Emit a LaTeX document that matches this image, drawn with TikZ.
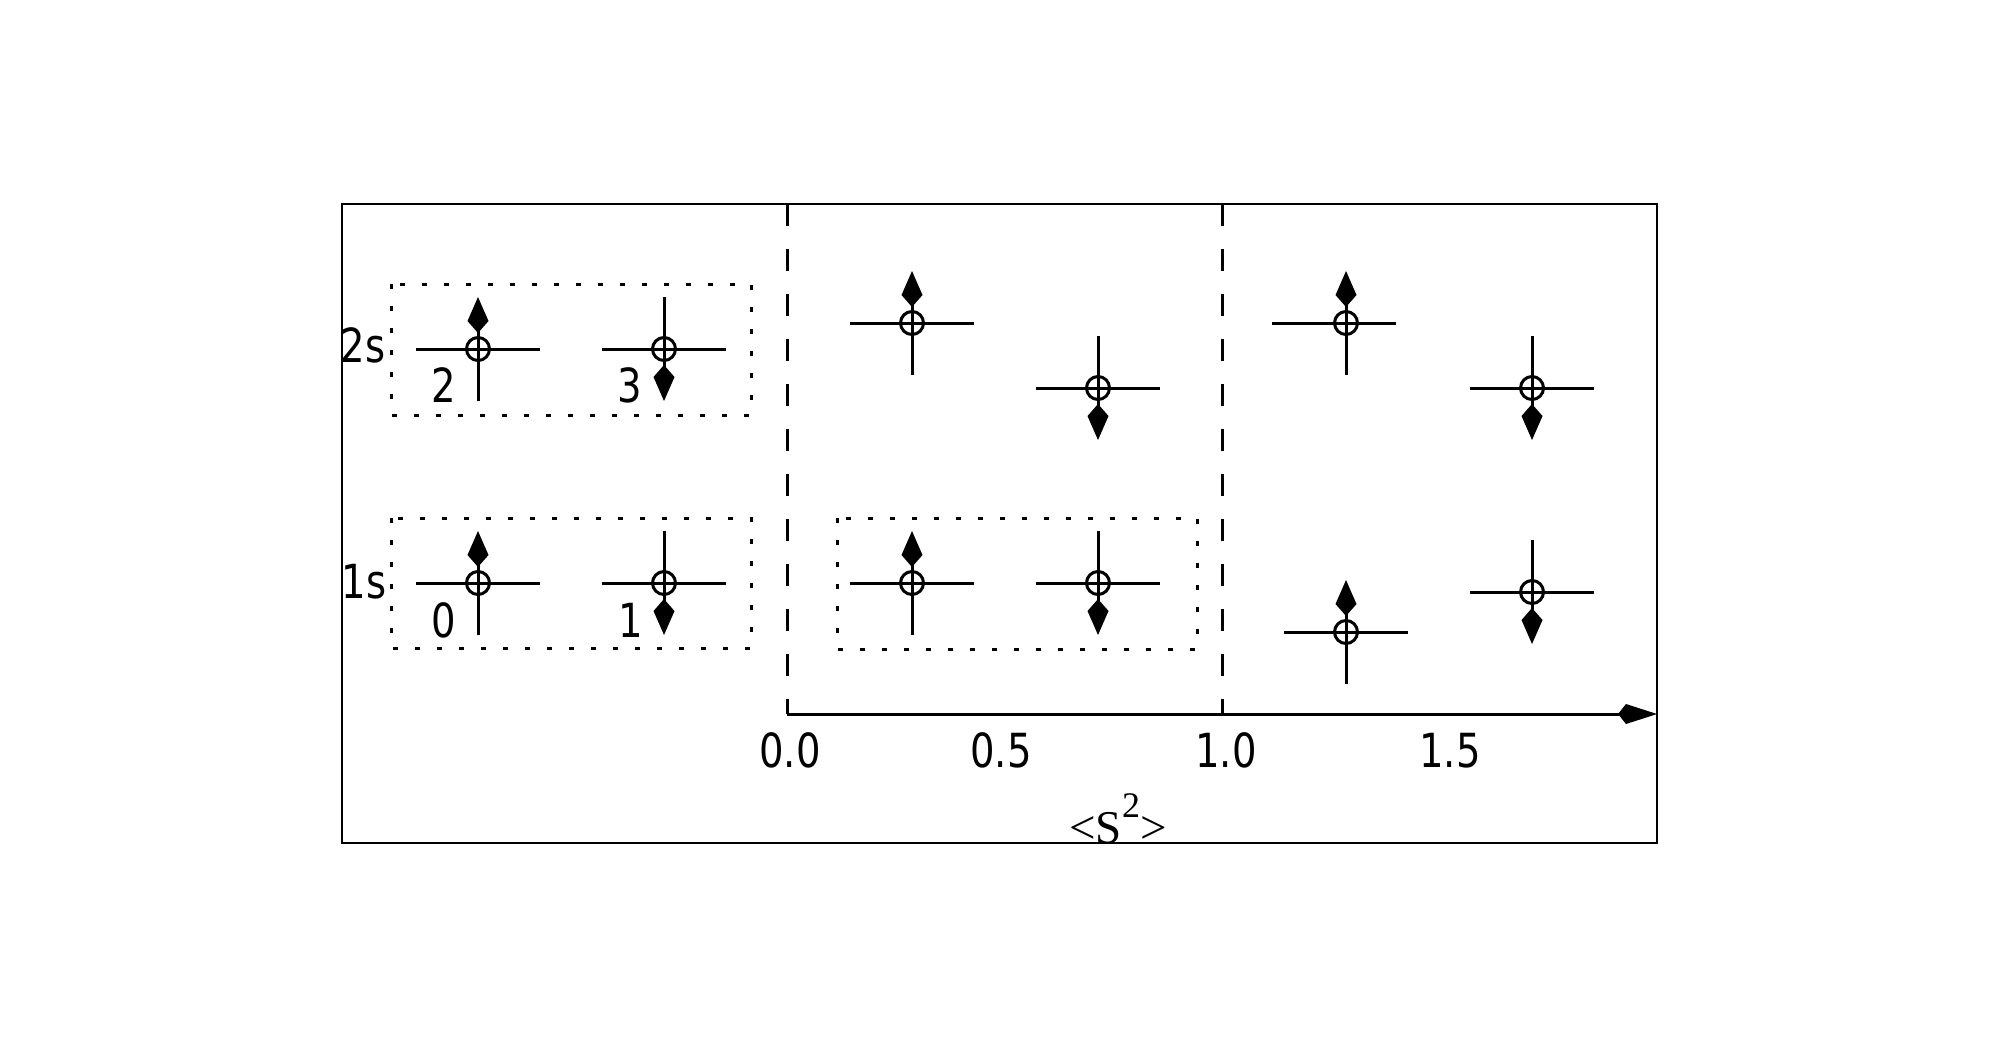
\documentclass[tikz,border=0pt]{standalone}
\usepackage{fontspec}
\usetikzlibrary{arrows.meta}
\newfontfamily\labfont[FakeStretch=0.82]{DejaVu Sans}
\newfontfamily\serfont{Liberation Serif}
\tikzset{
  stroke/.style={line width=1.5pt, black},
  spinhead/.style={-{Kite[length=18pt,width=10.5pt,inset=6pt]}},
  orb/.style={circle, draw, line width=1.5pt, minimum size=11.5pt, inner sep=0pt},
  lab/.style={font=\labfont\fontsize{23.5}{28}\selectfont, inner sep=0pt, anchor=base},
  dotbox/.style={line width=1.5pt, dash pattern=on 2.5pt off 8.5pt},
  dashline/.style={line width=1.5pt, dash pattern=on 11pt off 11.5pt},
  framebox/.style={line width=1pt},
}
% #1 name, #2 x, #3 y, #4 = 1 (up) or -1 (down), #5 horizontal shift of the level line (pt)
\newcommand{\elecsym}[5]{%
  \node[orb] (#1) at (#2,#3) {};
  \draw[stroke] ([xshift=-31pt+#5]#1.center) -- ([xshift=31pt+#5]#1.center);
  \draw[stroke, spinhead] ([yshift=-26pt*#4]#1.center) -- ([yshift=26pt*#4]#1.center);
}
\begin{document}
\begin{tikzpicture}[x=0.5pt, y=-0.5pt]
\useasboundingbox (0,0) rectangle (2000,1046);
% frame
\draw[framebox] (342,204) rectangle (1657,843);
% dotted boxes
\draw[dotbox] (391,284) rectangle (751,415);
\draw[dotbox] (391,518) rectangle (751,648);
\draw[dotbox] (837,518) rectangle (1197,649);
% axis and dashed separators
\coordinate (ax0) at (787,714);
\coordinate (ax1) at (1657,714);
\coordinate (d1t) at (787,204);
\coordinate (d2t) at (1222,204);
\coordinate (d2b) at (1222,714);
\draw[dashline] (d1t) -- (ax0);
\draw[dashline] (d2t) -- (d2b);
\draw[line width=1.5pt, -{Kite[length=19.5pt,width=10pt,inset=4pt]}] (ax0) -- (ax1);
% tick labels
\node[lab] (t00) at (790,767) {0.0};
\node[lab] (t05) at (1001,767) {0.5};
\node[lab] (t10) at (1226,767) {1.0};
\node[lab] (t15) at (1450,767) {1.5};
\node[inner sep=0pt, anchor=base, font=\serfont\fontsize{23.5}{28}\selectfont] (s2) at (1118,843) {<S\raisebox{13pt}{\fontsize{18}{20}\selectfont 2}>};
% shell labels
\node[lab] (l2s) at (363,362) {2s};
\node[lab] (l1s) at (364,598) {1s};
\node[lab] (n2) at (444,402) {2};
\node[lab] (n3) at (630,402) {3};
\node[lab] (n0) at (444,637) {0};
\node[lab] (n1) at (631,637) {1};
% electrons, left column
\elecsym{e2}{478}{349}{1}{0pt}
\elecsym{e3}{664}{349}{-1}{0pt}
\elecsym{e0}{478}{583}{1}{0pt}
\elecsym{e1}{664}{583}{-1}{0pt}
% middle column
\elecsym{m2u}{912}{323}{1}{0pt}
\elecsym{m2d}{1098}{388}{-1}{0pt}
\elecsym{m1u}{912}{583}{1}{0pt}
\elecsym{m1d}{1098}{583}{-1}{0pt}
% right column
\elecsym{r2u}{1346}{323}{1}{-6.25pt}
\elecsym{r2d}{1532}{388}{-1}{0pt}
\elecsym{r1u}{1346}{632}{1}{0pt}
\elecsym{r1d}{1532}{592}{-1}{0pt}
\end{tikzpicture}
\end{document}
